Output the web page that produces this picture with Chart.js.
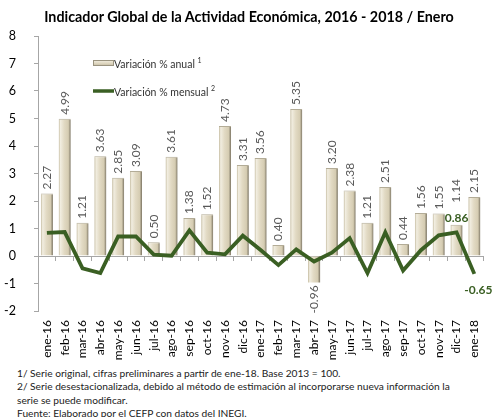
<!DOCTYPE html>
<html><head><meta charset="utf-8">
<script src="https://cdn.jsdelivr.net/npm/chart.js@4.4.1/dist/chart.umd.min.js"></script>
<style>
html,body{margin:0;padding:0;background:#fff;}
#wrap{position:relative;width:498px;height:417px;overflow:hidden;font-family:Lato,"Liberation Sans",sans-serif;}
#c{position:absolute;left:0;top:0;}
#title{position:absolute;left:0;width:498px;top:8px;text-align:center;font-weight:bold;font-size:14.3px;color:#000;}
.leg{position:absolute;font-size:10.5px;color:#333;white-space:nowrap;}
.leg sup{font-size:7px;vertical-align:5px;}
#notes{position:absolute;left:17px;top:367px;font-size:10.2px;color:#222;line-height:13.3px;white-space:nowrap;}
</style></head>
<body><div id="wrap">
<canvas id="c" width="498" height="367"></canvas>
<div id="title">Indicador Global de la Actividad Económica, 2016 - 2018 / Enero</div>
<div class="leg" style="left:114px;top:56px">Variación % anual <sup>1</sup></div>
<div class="leg" style="left:114px;top:84px">Variación % mensual <sup>2</sup></div>
<div id="notes">1/ Serie original, cifras preliminares a partir de ene-18. Base 2013 = 100.<br>2/ Serie desestacionalizada, debido al método de estimación al incorporarse nueva información la<br>serie se puede modificar.<br>Fuente: Elaborado por el CEFP con datos del INEGI.</div>
</div>
<script>
const categories = ["ene-16","feb-16","mar-16","abr-16","may-16","jun-16","jul-16","ago-16","sep-16","oct-16","nov-16","dic-16","ene-17","feb-17","mar-17","abr-17","may-17","jun-17","jul-17","ago-17","sep-17","oct-17","nov-17","dic-17","ene-18"];
const anual = [2.27,4.99,1.21,3.63,2.85,3.09,0.50,3.61,1.38,1.52,4.73,3.31,3.56,0.40,5.35,-0.96,3.20,2.38,1.21,2.51,0.44,1.56,1.55,1.14,2.15];
const mensual = [0.84,0.87,-0.45,-0.62,0.71,0.71,0.05,0.01,0.93,0.12,0.06,0.74,0.22,-0.33,0.24,-0.20,0.12,0.65,-0.62,0.86,-0.53,0.21,0.75,0.86,-0.65];
const yTicks = [-2,-1,0,1,2,3,4,5,6,7,8];
const lineLabelIdx = [23,24];

const GREEN = '#3A5F23';

const barGradient = {
  id:'barGradient',
  beforeDatasetsDraw(chart){
    const meta = chart.getDatasetMeta(0);
    const ctx = chart.ctx;
    meta.data.forEach(el=>{
      if(!isFinite(el.x) || !isFinite(el.width)) return;
      const x0 = el.x - el.width/2, x1 = el.x + el.width/2;
      const g = ctx.createLinearGradient(x0,0,x1,0);
      g.addColorStop(0,'#C4BBA0');
      g.addColorStop(0.15,'#F1EDE0');
      g.addColorStop(0.45,'#E2DAC4');
      g.addColorStop(0.8,'#D5CCB2');
      g.addColorStop(1,'#7A7362');
      el.options = Object.assign({}, el.options, {backgroundColor: g});
    });
  }
};

const labelsPlugin = {
  id:'labelsPlugin',
  afterDatasetsDraw(chart){
    const ctx = chart.ctx;
    const meta = chart.getDatasetMeta(0);
    ctx.save();
    ctx.font = '12px Lato, "Liberation Sans", sans-serif';
    ctx.fillStyle = '#595959';
    meta.data.forEach((el,i)=>{
      const v = anual[i];
      const txt = v.toFixed(2);
      const extra = (i===lineLabelIdx[0]) ? 18 : 0;
      ctx.save();
      ctx.translate(el.x, v>=0 ? el.y - 4 - extra : el.y + 3);
      ctx.rotate(-Math.PI/2);
      ctx.textBaseline = 'middle';
      ctx.textAlign = v>=0 ? 'left' : 'right';
      ctx.fillText(txt,0,0);
      ctx.restore();
    });
    const lm = chart.getDatasetMeta(1);
    ctx.font = 'bold 12px Lato, "Liberation Sans", sans-serif';
    ctx.fillStyle = GREEN;
    ctx.textAlign = 'center';
    ctx.textBaseline = 'middle';
    const p23 = lm.data[lineLabelIdx[0]];
    ctx.fillText(mensual[lineLabelIdx[0]].toFixed(2), p23.x, p23.y-14);
    const p24 = lm.data[lineLabelIdx[1]];
    ctx.fillText(mensual[lineLabelIdx[1]].toFixed(2), p24.x+4, p24.y+16);
    ctx.restore();
  }
};

const legendSym = {
  id:'legendSym',
  afterDraw(chart){
    const ctx = chart.ctx;
    ctx.save();
    const g = ctx.createLinearGradient(0,60,0,67);
    g.addColorStop(0,'#F3EFE3'); g.addColorStop(0.5,'#DDD5BE'); g.addColorStop(1,'#B7AE95');
    ctx.fillStyle = g;
    ctx.fillRect(93,60,21,6);
    ctx.strokeStyle='#9A937F'; ctx.lineWidth=1;
    ctx.strokeRect(93.5,60.5,20,5);
    ctx.strokeStyle = GREEN; ctx.lineWidth=3.5;
    ctx.beginPath(); ctx.moveTo(93,91); ctx.lineTo(114,91); ctx.stroke();
    ctx.restore();
  }
};

new Chart(document.getElementById('c'),{
  data:{
    labels:categories,
    datasets:[
      {type:'bar',label:'Variación % anual',data:anual,backgroundColor:'#DDD5BF',borderColor:'#B3AC97',borderWidth:{top:1,left:0,right:0,bottom:0},categoryPercentage:1,barPercentage:0.68,order:1,xAxisID:'x',yAxisID:'y'},
      {type:'line',label:'Variación % mensual',data:mensual,borderColor:GREEN,borderWidth:3.8,pointRadius:0,tension:0,order:0,xAxisID:'x',yAxisID:'y'}
    ]
  },
  options:{
    responsive:false,animation:false,
    layout:{padding:{left:0,right:13,top:36,bottom:0}},
    plugins:{legend:{display:false},tooltip:{enabled:false},title:{display:false}},
    scales:{
      x:{type:'category',position:'bottom',offset:true,
        grid:{display:false,drawTicks:false},border:{display:false},
        ticks:{minRotation:90,maxRotation:90,autoSkip:false,color:'#000',padding:9,font:{family:'Lato',size:12}},
        afterFit(s){s.height=56;}
      },
      x2:{type:'category',position:{y:0},offset:true,
        grid:{display:true,drawOnChartArea:false,drawTicks:true,tickLength:4,color:'#A6A6A6',offset:true},
        border:{display:true,color:'#A6A6A6',width:1},
        ticks:{display:false}
      },
      y:{type:'linear',min:-2,max:8,
        afterBuildTicks(s){s.ticks=yTicks.map(v=>({value:v}));},
        grid:{display:true,drawOnChartArea:false,drawTicks:true,tickLength:4,color:'#A6A6A6'},
        border:{display:true,color:'#A6A6A6'},
        ticks:{color:'#000',padding:18,font:{family:'Lato',size:12.5}},
        afterFit(s){s.width=38;}
      }
    }
  },
  plugins:[barGradient,labelsPlugin,legendSym]
});
</script>
</body></html>
